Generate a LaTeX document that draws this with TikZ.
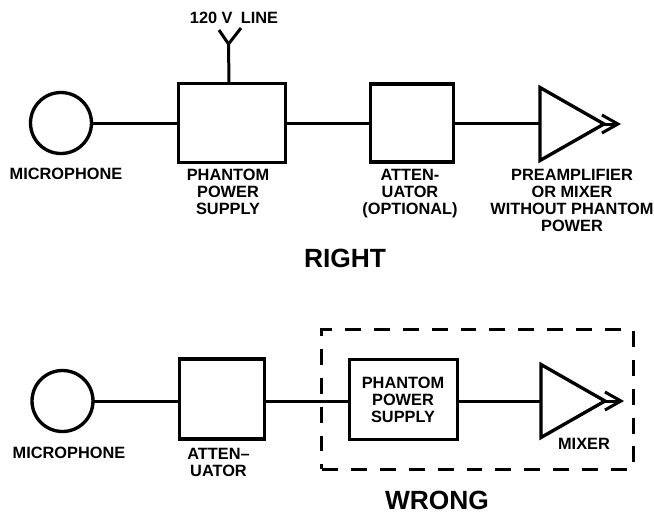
\documentclass[tikz,border=0pt]{standalone}
\usepackage{fontspec}
\setmainfont{Liberation Sans}
\usetikzlibrary{arrows.meta,shapes.geometric}
\tikzset{
  wire/.style={line width=1.7pt},
  blockbox/.style={draw, line width=1.9pt, inner sep=0pt, outer sep=0pt},
  ampl/.style={draw, line width=1.9pt, isosceles triangle, isosceles triangle stretches,
    minimum width=1.46cm, minimum height=1.28cm, inner sep=0pt, outer sep=0pt, anchor=west},
  mic/.style={draw, circle, line width=1.9pt, minimum size=1.22cm, inner sep=0pt, outer sep=0pt},
  lbl/.style={font=\fontsize{9.3}{9.7}\selectfont\bfseries, align=center, inner sep=0pt},
  verdict/.style={font=\fontsize{15}{15}\selectfont\bfseries, inner sep=0pt}
}
\begin{document}
\begin{tikzpicture}[x=0.02cm, y=-0.02cm, >={Straight Barb[length=0.32cm, width=0.36cm]}]
    \useasboundingbox (0,0) rectangle (654,512);

    % Upper chain
    \node[mic] (mictop) at (61,123) {};
    \node[blockbox, minimum width=2.14cm, minimum height=1.58cm] (supplytop) at (232,123) {};
    \node[blockbox, minimum width=1.66cm, minimum height=1.56cm] (atttop) at (412,123) {};
    \node[ampl] (amptop) at (540,124) {};
    \coordinate (tiptop) at (621,124);
    \draw[wire] (mictop) -- (supplytop);
    \draw[wire] (supplytop) -- (atttop);
    \draw[wire] (atttop) -- (amptop.west |- atttop);
    \draw[wire, ->] (amptop.apex) -- (tiptop);

    % Mains fork
    \coordinate (forkbase) at (229,82);
    \coordinate (fork) at (228.5,44);
    \coordinate (forkleft) at (219,30);
    \coordinate (forkright) at (241,28);
    \draw[wire] (forkbase) -- (fork);
    \draw[wire] (forkleft) -- (fork) -- (forkright);

    \node[lbl] (linelabel) at (234,18) {120 V\,\,\,LINE};
    \node[lbl] (mictoplabel) at (66,174) {MICROPHONE};
    \node[lbl, anchor=north] (supplytoplabel) at (228,169) {PHANTOM\\POWER\\SUPPLY};
    \node[lbl, anchor=north] (atttoplabel) at (410,169) {ATTEN-\\UATOR\\(OPTIONAL)};
    \node[lbl, anchor=north] (amptoplabel) at (572,169) {PREAMPLIFIER\\OR MIXER\\WITHOUT PHANTOM\\POWER};
    \node[verdict] (right) at (345,258) {RIGHT};

    % Lower chain
    \node[mic] (micbot) at (62.5,401) {};
    \node[blockbox, minimum width=1.7cm, minimum height=1.6cm] (attbot) at (222,399) {};
    \node[blockbox, minimum width=2.16cm, minimum height=1.6cm] (supplybot) at (403.5,399.5) {};
    \node[ampl] (ampbot) at (541,401) {};
    \coordinate (tipbot) at (624,401);
    \draw[wire] (micbot) -- (micbot -| attbot.west);
    \draw[wire] (attbot.east |- micbot) -- (supplybot.west |- micbot);
    \draw[wire] (supplybot.east |- micbot) -- (ampbot.west);
    \draw[wire, ->] (ampbot.apex) -- (tipbot);

    % Dashed enclosure
    \node[blockbox, dash pattern=on 0.32cm off 0.26cm, minimum width=6.24cm, minimum height=2.8cm] (encl) at (477.5,399.5) {};

    \node[lbl] (micbotlabel) at (69,453) {MICROPHONE};
    \node[lbl, anchor=north] (attbotlabel) at (218.5,447.5) {ATTEN--\\UATOR};
    \node[lbl, anchor=north] (supplybotlabel) at (403,377) {PHANTOM\\POWER\\SUPPLY};
    \node[lbl] (ampbotlabel) at (584,444) {MIXER};
    \node[verdict] (wrong) at (437,500) {WRONG};
\end{tikzpicture}
\end{document}
